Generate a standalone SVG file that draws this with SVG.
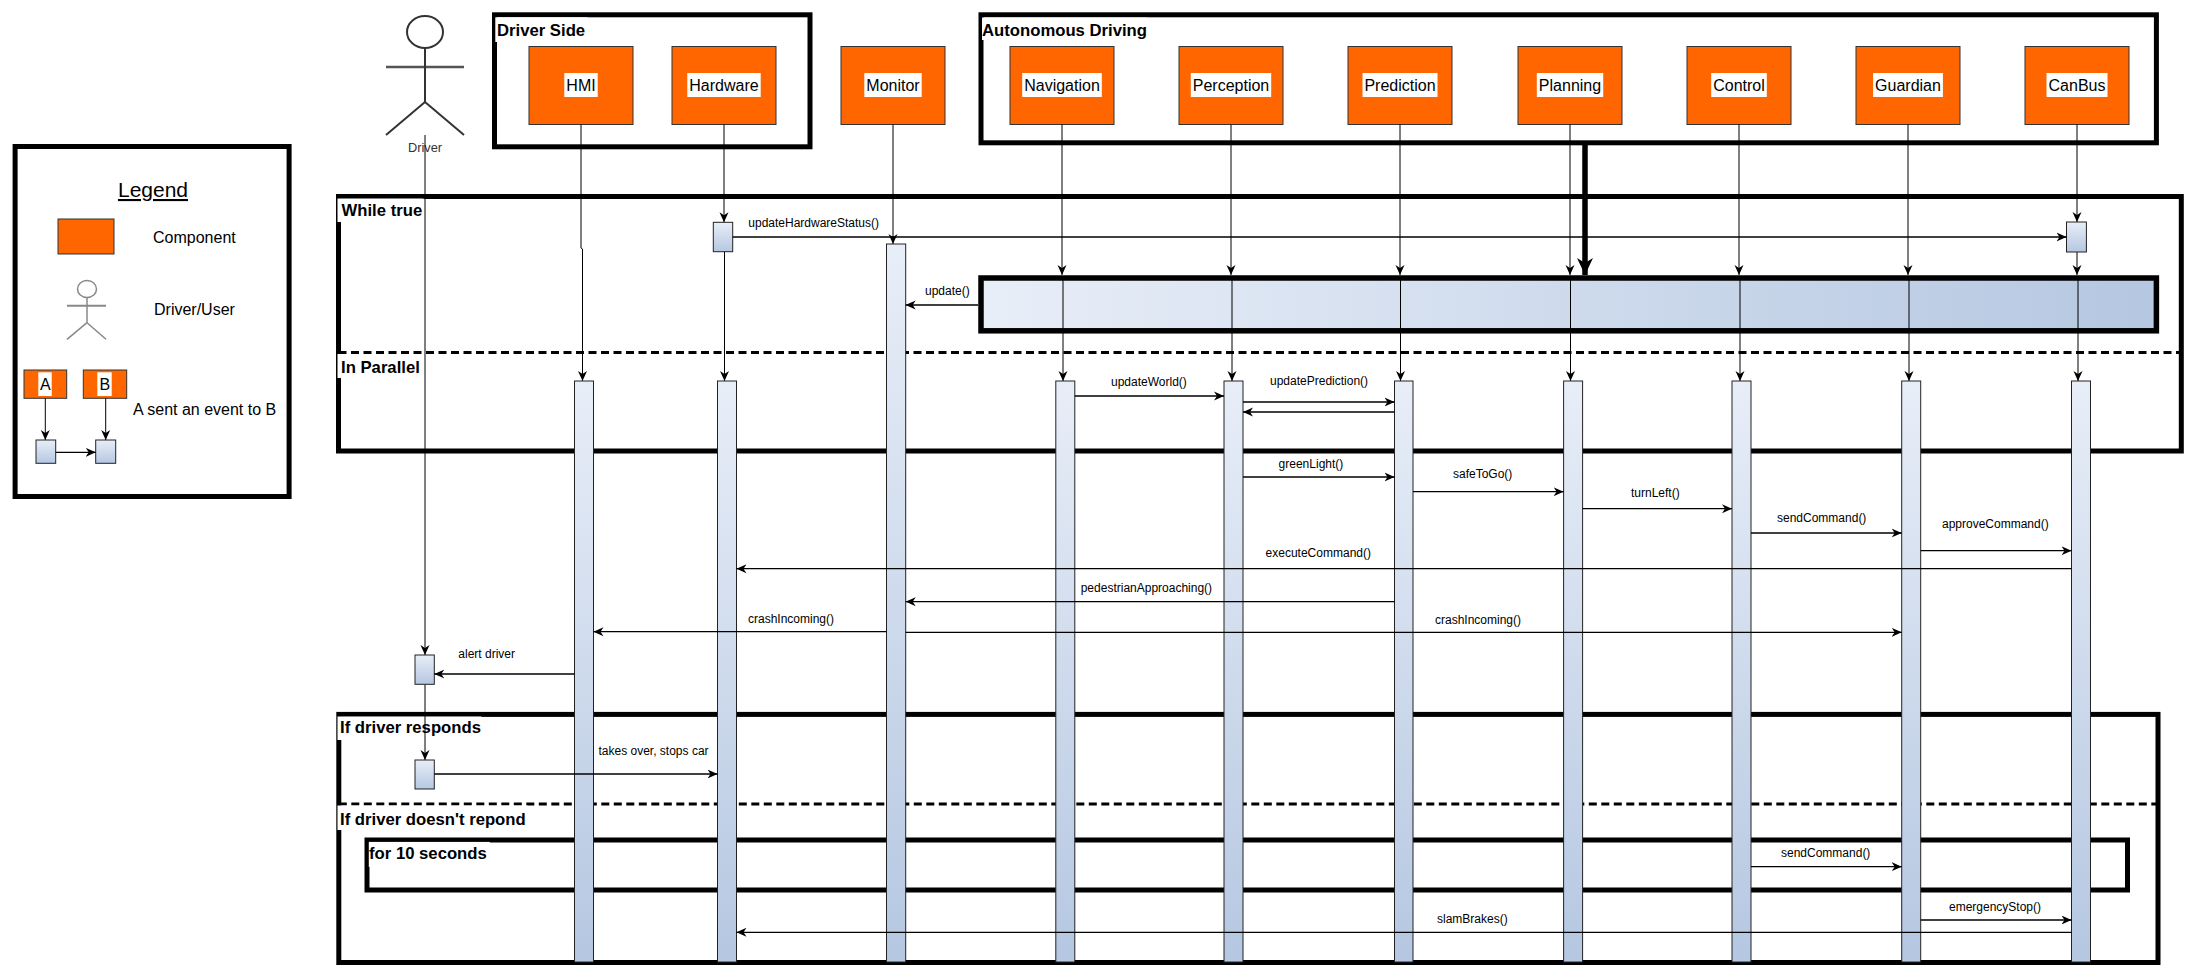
<svg xmlns="http://www.w3.org/2000/svg" width="2199" height="978" viewBox="0 0 2199 978">
<defs>
  <linearGradient id="gv" x1="0" y1="0" x2="0" y2="1">
    <stop offset="0" stop-color="#E8EEF8"/>
    <stop offset="1" stop-color="#B5C7E1"/>
  </linearGradient>
  <linearGradient id="gh" x1="0" y1="0" x2="1" y2="0">
    <stop offset="0" stop-color="#E8EEF8"/>
    <stop offset="1" stop-color="#B5C7E1"/>
  </linearGradient>
  <marker id="arr" viewBox="0 0 10 10" refX="10" refY="5" markerWidth="10" markerHeight="10" orient="auto" markerUnits="userSpaceOnUse">
    <path d="M0,0.5 L10,5 L0,9.5 L3,5 Z" fill="#000"/>
  </marker>
  <marker id="bigarr" viewBox="0 0 17 16" refX="17" refY="8" markerWidth="17" markerHeight="16" orient="auto" markerUnits="userSpaceOnUse">
    <path d="M0,0 L17,8 L0,16 L5,8 Z" fill="#000"/>
  </marker>
</defs>
<style>
  .frame{fill:none;stroke:#000;stroke-width:5}
  .wbg{fill:#fff;stroke:none}
  .flabel{font-family:"Liberation Sans",Arial,sans-serif;font-weight:bold;font-size:16.7px;fill:#000}
  .comp{fill:#FF6600;stroke:#333;stroke-width:1}
  .clabel{font-family:"Liberation Sans",Arial,sans-serif;font-size:16px;fill:#000;text-anchor:middle}
  .life{stroke:#000;stroke-width:1;fill:none;marker-end:url(#arr)}
  .bar{fill:url(#gv);stroke:#222;stroke-width:1}
  .msg{stroke:#000;stroke-width:1.3;fill:none;marker-end:url(#arr)}
  .mlabel{font-family:"Liberation Sans",Arial,sans-serif;font-size:12px;fill:#000}
  .dash{stroke:#000;stroke-width:3;stroke-dasharray:8 4.5;fill:none}
  .ltext{font-family:"Liberation Sans",Arial,sans-serif;font-size:16px;fill:#000}
</style>
<rect x="0" y="0" width="2199" height="978" fill="#fff"/>

<!-- Legend -->
<g id="legend">
  <rect class="frame" x="15.1" y="146.5" width="274" height="350"/>
  <text x="153" y="197" font-family="Liberation Sans, Arial, sans-serif" font-size="21" text-anchor="middle" text-decoration="underline">Legend</text>
  <rect class="comp" x="58" y="219" width="56" height="35"/>
  <text class="ltext" x="153" y="243">Component</text>
  <g stroke="#888" stroke-width="1.5" fill="none">
    <ellipse cx="87" cy="289" rx="9.5" ry="8.5"/>
    <line x1="67" y1="305.7" x2="106" y2="305.7" stroke-width="2"/>
    <line x1="87" y1="297.5" x2="87" y2="322.7"/>
    <line x1="87" y1="322.7" x2="67" y2="339.3"/>
    <line x1="87" y1="322.7" x2="106" y2="339.3"/>
  </g>
  <text class="ltext" x="154" y="315">Driver/User</text>
  <rect class="comp" x="24" y="370" width="42.7" height="28.3"/>
  <rect class="wbg" x="38.3" y="372.3" width="13.4" height="23.7"/>
  <text class="clabel" x="45.3" y="390">A</text>
  <rect class="comp" x="83.3" y="370" width="43.4" height="28.3"/>
  <rect class="wbg" x="97.3" y="372.3" width="14.4" height="23.7"/>
  <text class="clabel" x="104.8" y="390">B</text>
  <path class="life" d="M45.3,398.3 V440"/>
  <path class="life" d="M105.7,398.3 V440"/>
  <rect class="bar" x="36" y="440" width="19.7" height="23.3"/>
  <rect class="bar" x="95.7" y="440" width="20" height="23.3"/>
  <path class="msg" d="M55.7,452.3 H95.7"/>
  <text class="ltext" x="133" y="415">A sent an event to B</text>
</g>

<!-- Combined fragments -->
<g id="frame-while-true">
  <rect class="frame" x="338.5" y="196.5" width="1842.8" height="254.5"/>
  <path class="dash" d="M338.5,352.5 H2181.3"/>
  <rect class="wbg" x="337.5" y="198.5" width="86" height="23.5"/>
  <text class="flabel" x="341.5" y="216">While true</text>
  <rect class="wbg" x="337.5" y="354" width="88" height="24"/>
  <text class="flabel" x="341" y="373">In Parallel</text>
</g>
<g id="frame-if-driver">
  <rect class="frame" x="338.8" y="714.4" width="1819.2" height="248.1" stroke-width="4.5"/>
  <path class="dash" d="M338.8,804 H2158"/>
  <rect class="wbg" x="337.5" y="716.5" width="144" height="23.5"/>
  <text class="flabel" x="340" y="733">If driver responds</text>
  <rect class="wbg" x="337.5" y="805.5" width="190" height="24.5"/>
  <text class="flabel" x="340" y="825">If driver doesn't repond</text>
</g>
<g id="frame-for-10-seconds">
  <rect class="frame" x="367" y="840" width="1760.5" height="50" stroke-width="3.7"/>
  <rect class="wbg" x="368.8" y="841.9" width="121" height="25"/>
  <text class="flabel" x="369" y="859">for 10 seconds</text>
</g>

<!-- Driver actor -->
<g id="actor-driver">
  <g stroke="#333" fill="none">
    <ellipse cx="425" cy="32" rx="18" ry="16" stroke-width="2"/>
    <line x1="386" y1="67" x2="464" y2="67" stroke="#555" stroke-width="2.5"/>
    <line x1="425" y1="48" x2="425" y2="102" stroke-width="2"/>
    <line x1="425" y1="102" x2="386" y2="135" stroke-width="2"/>
    <line x1="425" y1="102" x2="464" y2="135" stroke-width="2"/>
  </g>
  <text x="425" y="152" font-family="Liberation Sans, Arial, sans-serif" font-size="12.8" fill="#333" text-anchor="middle">Driver</text>
</g>

<!-- Packages -->
<g id="frame-driver-side">
  <rect class="frame" x="494.5" y="14.8" width="315.5" height="132"/>
  <rect class="wbg" x="495.3" y="17.3" width="92" height="24.7"/>
  <text class="flabel" x="497" y="36">Driver Side</text>
</g>
<g id="frame-autonomous-driving">
  <rect class="frame" x="981" y="14.8" width="1175.4" height="128" stroke-width="5.5"/>
  <rect class="wbg" x="982" y="17.6" width="165" height="22.4"/>
  <text class="flabel" x="982" y="36">Autonomous Driving</text>
</g>

<!-- Components -->
<g id="node-hmi"><rect class="comp" x="529" y="46.5" width="104" height="78"/><rect class="wbg" x="564.3" y="73" width="33.4" height="24"/><text class="clabel" x="581" y="91">HMI</text></g>
<g id="node-hardware"><rect class="comp" x="672" y="46.5" width="104" height="78"/><rect class="wbg" x="687.3" y="73" width="73.4" height="24"/><text class="clabel" x="724" y="91">Hardware</text></g>
<g id="node-monitor"><rect class="comp" x="841" y="46.5" width="104" height="78"/><rect class="wbg" x="864.3" y="73" width="57.4" height="24"/><text class="clabel" x="893" y="91">Monitor</text></g>
<g id="node-navigation"><rect class="comp" x="1010" y="46.5" width="104" height="78"/><rect class="wbg" x="1022.2" y="73" width="79.6" height="24"/><text class="clabel" x="1062" y="91">Navigation</text></g>
<g id="node-perception"><rect class="comp" x="1179" y="46.5" width="104" height="78"/><rect class="wbg" x="1190.8" y="73" width="80.4" height="24"/><text class="clabel" x="1231" y="91">Perception</text></g>
<g id="node-prediction"><rect class="comp" x="1348" y="46.5" width="104" height="78"/><rect class="wbg" x="1362.5" y="73" width="75" height="24"/><text class="clabel" x="1400" y="91">Prediction</text></g>
<g id="node-planning"><rect class="comp" x="1518" y="46.5" width="104" height="78"/><rect class="wbg" x="1536.8" y="73" width="66.4" height="24"/><text class="clabel" x="1570" y="91">Planning</text></g>
<g id="node-control"><rect class="comp" x="1687" y="46.5" width="104" height="78"/><rect class="wbg" x="1711.2" y="73" width="55.6" height="24"/><text class="clabel" x="1739" y="91">Control</text></g>
<g id="node-guardian"><rect class="comp" x="1856" y="46.5" width="104" height="78"/><rect class="wbg" x="1873.1" y="73" width="69.8" height="24"/><text class="clabel" x="1908" y="91">Guardian</text></g>
<g id="node-canbus"><rect class="comp" x="2025" y="46.5" width="104" height="78"/><rect class="wbg" x="2046.5" y="73" width="61" height="24"/><text class="clabel" x="2077" y="91">CanBus</text></g>

<!-- Update block -->
<g id="node-update-block">
  <rect x="981" y="278" width="1175.4" height="52.8" fill="url(#gh)" stroke="#000" stroke-width="5.5"/>
</g>

<!-- Lifelines -->
<g id="lifelines">
  <path class="life" d="M425,135 V655"/>
  <path class="life" d="M425,684.3 V760"/>
  <path class="life" d="M581,124.5 V248 L582.5,249 V381"/>
  <path class="life" d="M724,124.5 V222.3"/>
  <path class="life" d="M724.5,251.7 V381"/>
  <path class="life" d="M893,124.5 V244"/>
  <path class="life" d="M1062,124.5 V275"/>
  <path class="life" d="M1063,278 V381"/>
  <path class="life" d="M1231,124.5 V275"/>
  <path class="life" d="M1232,278 V381"/>
  <path class="life" d="M1400,124.5 V275"/>
  <path class="life" d="M1400.5,278 V381"/>
  <path class="life" d="M1570,124.5 V275"/>
  <path class="life" d="M1570.5,278 V381"/>
  <path d="M1585,144 V275" stroke="#000" stroke-width="5.5" fill="none" marker-end="url(#bigarr)"/>
  <path class="life" d="M1739,124.5 V275"/>
  <path class="life" d="M1740,278 V381"/>
  <path class="life" d="M1908,124.5 V275"/>
  <path class="life" d="M1909,278 V381"/>
  <path class="life" d="M2077,124.5 V222"/>
  <path class="life" d="M2077,252 V275"/>
  <path class="life" d="M2078,278 V381"/>
</g>

<!-- Activations -->
<g id="activations">
  <rect class="bar" x="713.3" y="222.3" width="19.4" height="29.4"/>
  <rect class="bar" x="2066.5" y="222" width="19.9" height="30"/>
  <rect class="bar" x="886.5" y="244" width="19.2" height="718"/>
  <rect class="bar" x="574.5" y="381" width="19" height="581"/>
  <rect class="bar" x="717.5" y="381" width="19" height="581"/>
  <rect class="bar" x="1055.8" y="381" width="19" height="581"/>
  <rect class="bar" x="1224" y="381" width="19" height="581"/>
  <rect class="bar" x="1394.5" y="381" width="18.5" height="581"/>
  <rect class="bar" x="1563.6" y="381" width="19" height="581"/>
  <rect class="bar" x="1732" y="381" width="19" height="581"/>
  <rect class="bar" x="1901.7" y="381" width="19" height="581"/>
  <rect class="bar" x="2071.5" y="381" width="19" height="581"/>
  <rect class="bar" x="415" y="655" width="19.3" height="29.3"/>
  <rect class="bar" x="415" y="760" width="19.3" height="29"/>
</g>

<!-- Messages -->
<g id="connectors">
  <path class="msg" d="M732.7,237 H2066.5"/>
  <path class="msg" d="M978,305 H905.7"/>
  <path class="msg" d="M1074.8,396 H1224"/>
  <path class="msg" d="M1243,402 H1394.5"/>
  <path class="msg" d="M1394.5,412 H1243"/>
  <path class="msg" d="M1243,477 H1394.5"/>
  <path class="msg" d="M1413,491.7 H1563.6"/>
  <path class="msg" d="M1582.6,508.7 H1732"/>
  <path class="msg" d="M1751,533 H1901.7"/>
  <path class="msg" d="M1920.7,550.7 H2071.5"/>
  <path class="msg" d="M2071.5,568.7 H736.5"/>
  <path class="msg" d="M1394.5,601.7 H905.7"/>
  <path class="msg" d="M886.5,631.7 H593.5"/>
  <path class="msg" d="M905.7,632.3 H1901.7"/>
  <path class="msg" d="M574.5,674 H434.3"/>
  <path class="msg" d="M434.3,774 H717.5"/>
  <path class="msg" d="M1751,866.7 H1901.7"/>
  <path class="msg" d="M1920.7,920 H2071.5"/>
  <path class="msg" d="M2071.5,932.3 H736.5"/>
</g>

<!-- Message labels -->
<g id="message-labels">
  <text class="mlabel" x="748.3" y="227">updateHardwareStatus()</text>
  <text class="mlabel" x="925" y="295">update()</text>
  <text class="mlabel" x="1111" y="386">updateWorld()</text>
  <text class="mlabel" x="1270" y="385">updatePrediction()</text>
  <text class="mlabel" x="1278.6" y="468">greenLight()</text>
  <text class="mlabel" x="1453" y="478">safeToGo()</text>
  <text class="mlabel" x="1631" y="497">turnLeft()</text>
  <text class="mlabel" x="1777" y="522">sendCommand()</text>
  <text class="mlabel" x="1942" y="528">approveCommand()</text>
  <text class="mlabel" x="1265.6" y="557">executeCommand()</text>
  <text class="mlabel" x="1080.7" y="592">pedestrianApproaching()</text>
  <text class="mlabel" x="748" y="623">crashIncoming()</text>
  <text class="mlabel" x="1435" y="624">crashIncoming()</text>
  <text class="mlabel" x="458.3" y="658">alert driver</text>
  <text class="mlabel" x="598.5" y="755">takes over, stops car</text>
  <text class="mlabel" x="1781" y="857">sendCommand()</text>
  <text class="mlabel" x="1949" y="911">emergencyStop()</text>
  <text class="mlabel" x="1437" y="923">slamBrakes()</text>
</g>
</svg>
